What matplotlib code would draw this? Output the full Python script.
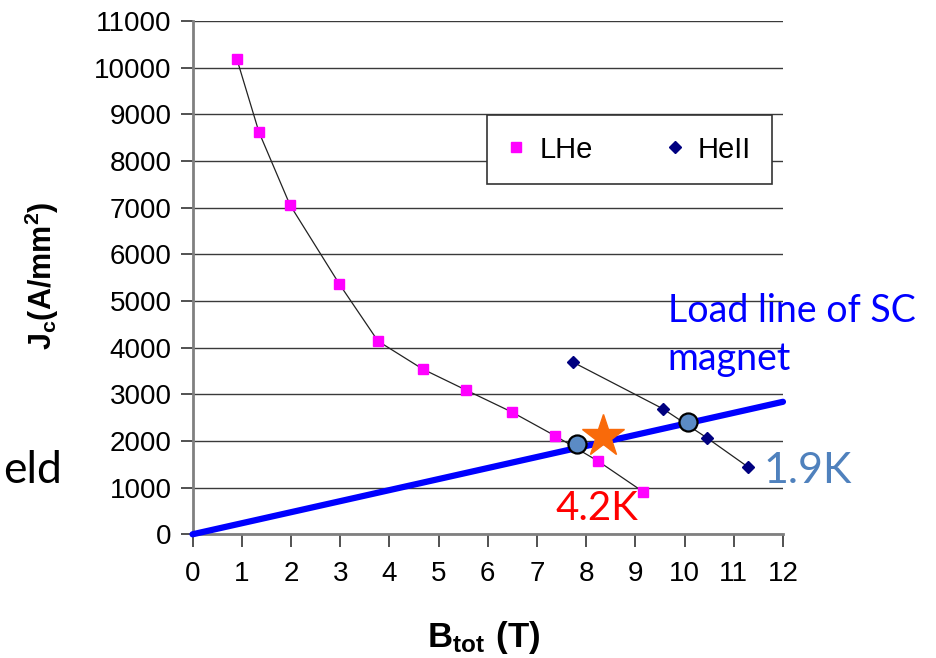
import matplotlib
matplotlib.use('Agg')
import matplotlib.pyplot as plt

plt.rcParams['font.family'] = 'Liberation Sans'
plt.rcParams['mathtext.fontset'] = 'custom'
plt.rcParams['mathtext.rm'] = 'Liberation Sans'
plt.rcParams['mathtext.bf'] = 'Liberation Sans:bold'

# critical current data
b_lhe = [0.90, 1.35, 1.98, 2.98, 3.77, 4.68, 5.56, 6.49, 7.37, 8.24, 9.16]
jc_lhe = [10190, 8620, 7060, 5370, 4140, 3540, 3090, 2620, 2110, 1570, 910]
b_he2 = [7.73, 9.56, 10.45, 11.28]
jc_he2 = [3690, 2690, 2070, 1450]

# magnet load line and its crossing points
load_b = [0, 12]
load_j = [0, 2840]
cross_b = [7.82, 10.06]
cross_j = [1930, 2410]
star_b = [8.34]
star_j = [2110]

x_ticks = list(range(0, 13))
y_ticks = list(range(0, 11001, 1000))

fig = plt.figure(figsize=(9.36, 6.58), dpi=100)
ax = fig.add_axes([0.2057, 0.188, 0.6308, 0.780])

for y in y_ticks:
    ax.axhline(y, color='#3a3a3a', lw=1.0, zorder=1)

ax.plot(b_lhe, jc_lhe, color='#222222', lw=0.9, zorder=2)
ax.plot(b_he2, jc_he2, color='#222222', lw=0.9, zorder=2)
ax.plot(b_lhe, jc_lhe, ls='none', marker='s', ms=7.5, color='#FF00FF',
        mec='#FF00FF', zorder=3, label='LHe')
ax.plot(b_he2, jc_he2, ls='none', marker='D', ms=6.5, color='#000080',
        mec='#000080', zorder=3, label='HeII')

ax.plot(load_b, load_j, color='#0000FF', lw=4.5, solid_capstyle='round',
        zorder=4, clip_on=False)
ax.plot(cross_b, cross_j, ls='none', marker='o', ms=13, color='#5B8BC5',
        mec='black', mew=1.6, zorder=5)
ax.plot(star_b, star_j, ls='none', marker='*', ms=32, color='#F96A0A',
        mec='#F96A0A', zorder=6)

ax.set_xlim(0, 12)
ax.set_ylim(0, 11000)
ax.set_xticks(x_ticks)
ax.set_yticks(y_ticks)
ax.tick_params(axis='both', labelsize=20, length=9, width=1.2,
               color='#333333', direction='out')
ax.tick_params(axis='x', pad=10)
ax.tick_params(axis='y', pad=6)
for side in ['top', 'right']:
    ax.spines[side].set_visible(False)
for side in ['left', 'bottom']:
    ax.spines[side].set_color('#808080')
    ax.spines[side].set_linewidth(2)

ax.set_xlabel(r'$\mathbf{B_{tot}\ (T)}$', fontsize=25, va='center')
ax.xaxis.set_label_coords(0.493, -0.202)
ax.set_ylabel(r'$\mathbf{J_c(A/mm^2)}$', fontsize=22, va='center')
ax.yaxis.set_label_coords(-0.255, 0.503)

leg = ax.legend(loc='center', bbox_to_anchor=(0.4987, 0.6786, 0.4823, 0.1422),
                mode='expand', ncol=2, fontsize=21, frameon=True, fancybox=False,
                handlelength=0.6, handletextpad=0.5, borderpad=0.7,
                borderaxespad=0)
leg.get_frame().set_edgecolor('#333333')
leg.get_frame().set_linewidth(1.2)
leg.get_frame().set_alpha(1)

ax.text(9.66, 4556, 'Load line of SC', color='#0000FF', fontsize=27,
        family='Lato', va='baseline')
ax.text(9.66, 3521, 'magnet', color='#0000FF', fontsize=27,
        family='Lato', va='baseline')
ax.text(11.6, 1106, '1.9K', color='#4F81BD', fontsize=31, family='Lato',
        va='baseline')
ax.text(7.37, 306, '4.2K', color='#FF0000', fontsize=29, family='Lato',
        va='baseline')
fig.text(0.003, 0.266, 'eld', color='black', fontsize=32, family='Lato',
         va='baseline')

fig.savefig('out.png', dpi=100)
